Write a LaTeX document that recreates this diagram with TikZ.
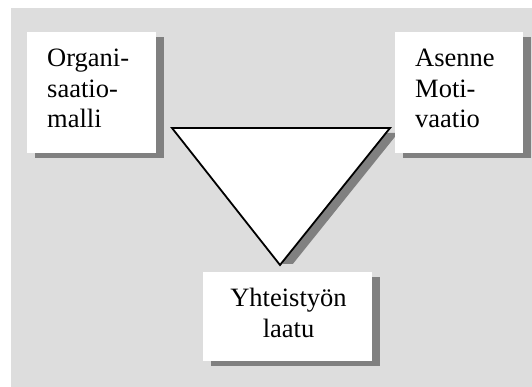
\documentclass[tikz,border=0pt]{standalone}
\usepackage{fontspec}
\setmainfont{Liberation Serif}
\usetikzlibrary{shadows,calc}
\definecolor{bggray}{RGB}{221,221,221}
\definecolor{shadowgray}{RGB}{128,128,128}
\begin{document}
\begin{tikzpicture}[x=1pt,y=-1pt,
  card/.style={draw=none,fill=white,inner sep=0pt,anchor=north west,
    drop shadow={shadow xshift=8pt,shadow yshift=-5pt,fill=shadowgray,opacity=1}},
  lbl/.style={inner sep=0pt,font=\fontsize{26.5}{30.3}\selectfont},
  tri/.style={draw=black,line width=1.8pt,fill=white,line join=miter}]
\useasboundingbox (0,0) rectangle (532,387);
\fill[white] (0,0) rectangle (532,387);
\fill[bggray] (11,8) rectangle (532,387);
% triangle corners
\coordinate (tl) at (172,128);
\coordinate (tr) at (390,128);
\coordinate (tb) at (280,265);
% triangle shadow
\begin{scope}
  \clip (0,0) rectangle (532,263);
  \fill[shadowgray] ($(tl)+(8,5)$) -- ($(tr)+(8,5)$) -- ($(tb)+(8,5)$) -- cycle;
\end{scope}
\draw[tri] (tl) -- (tr) -- (tb) -- cycle;
% boxes
\node[card,minimum width=129pt,minimum height=121pt] (box1) at (27,32) {};
\node[card,minimum width=128pt,minimum height=121pt] (box2) at (395,32) {};
\node[card,minimum width=169pt,minimum height=89pt] (box3) at (203,272) {};
% labels
\node[lbl,anchor=base west,text width=100pt,align=left] (t1) at (47,67) {Organi-\\saatio-\\malli};
\node[lbl,anchor=base west,text width=100pt,align=left] (t2) at (415,67) {Asenne\\Moti-\\vaatio};
\node[lbl,anchor=base,text width=160pt,align=center] (t3) at (288.5,306.7) {Yhteistyön\\laatu};
\end{tikzpicture}
\end{document}
